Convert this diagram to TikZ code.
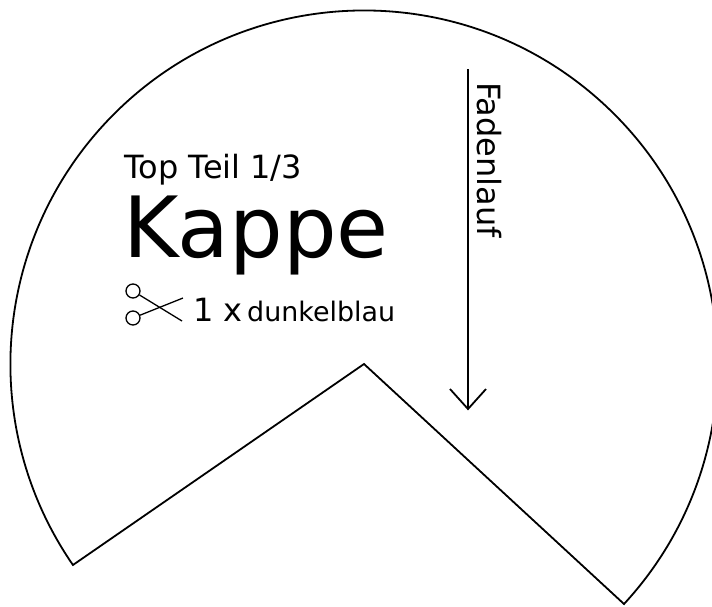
\documentclass[tikz,border=0pt]{standalone}
\usepackage{fontspec}
\setmainfont{DejaVu Sans}
\tikzset{cut/.style={draw=black,line width=1.8pt,line join=miter},
 lab/.style={inner sep=0pt,anchor=base west,text=black},
 grain/.style={draw=black,line width=1.8pt},
 scis/.style={draw=black,line width=1.3pt}}
\begin{document}
\begin{tikzpicture}[x=1pt,y=-1pt]
\useasboundingbox (0,0) rectangle (712,606);
\coordinate (c) at (364,364);
\draw[cut] (c) -- (624,604) arc[start angle=42.7,end angle=-214.6,radius=353.7] -- cycle;
\coordinate (g1) at (468,69);
\coordinate (g2) at (468,409);
\draw[grain] (g1) -- (g2);
\draw[grain] (450,389) -- (g2) -- (486,389);
\node[lab,font=\fontsize{32}{32}\selectfont] (t1) at (124.5,178.5) {Top Teil 1/3};
\node[lab,font=\fontsize{84.5}{84.5}\selectfont] (t2) at (123.5,257) {Kappe};
\node[lab,font=\fontsize{32}{32}\selectfont] (t3) at (193,321) {1 x};
\node[lab,font=\fontsize{26.9}{26.9}\selectfont] (t4) at (247,321) {dunkelblau};
\node[lab,font=\fontsize{32}{32}\selectfont,rotate=-90] (t5) at (477,82) {Fadenlauf};
\node[scis,circle,minimum size=14pt,inner sep=0pt] (h1) at (133,291) {};
\node[scis,circle,minimum size=14pt,inner sep=0pt] (h2) at (133,318) {};
\coordinate (b1) at (182,321);
\coordinate (b2) at (183,298);
\draw[scis] (h1) -- (b1);
\draw[scis] (h2) -- (b2);
\end{tikzpicture}
\end{document}
